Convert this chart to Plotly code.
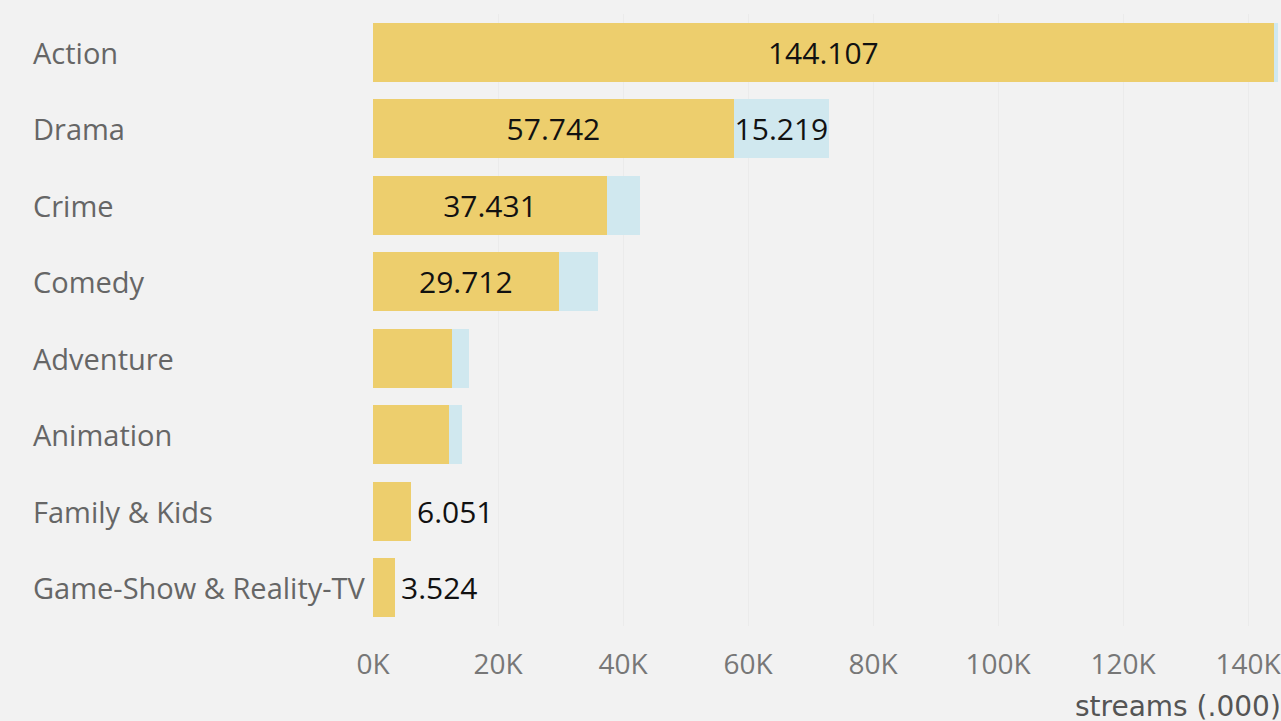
import plotly.graph_objects as go

categories = ["Action", "Drama", "Crime", "Comedy", "Adventure", "Animation",
              "Family & Kids", "Game-Show & Reality-TV"]
streams_main = [144.107, 57.742, 37.431, 29.712, 12.6, 12.1, 6.051, 3.524]
streams_other = [20.0, 15.219, 5.3, 6.3, 2.7, 2.2, 0.0, 0.0]
show_main_inside = [True, True, True, True, False, False, False, False]
show_main_outside = [False, False, False, False, False, False, True, True]
show_other = [False, True, False, False, False, False, False, False]
tick_vals = [0, 20, 40, 60, 80, 100, 120, 140]
tick_text = ["0K", "20K", "40K", "60K", "80K", "100K", "120K", "140K"]

YELLOW = "#EDCE6D"
BLUE = "#D0E8EF"
BG = "#F2F2F2"
FONT = "Open Sans"

fmt = lambda v: f"{v:.3f}"

fig = go.Figure()
fig.add_trace(go.Bar(
    y=categories, x=streams_main, orientation="h",
    marker=dict(color=YELLOW, line=dict(width=0)),
    text=[fmt(v) if s else "" for v, s in zip(streams_main, show_main_inside)],
    textposition="inside", insidetextanchor="middle", constraintext="none",
    textangle=0,
    insidetextfont=dict(family=FONT, size=30, color="#111111"),
    hoverinfo="skip",
))
fig.add_trace(go.Bar(
    y=categories, x=streams_other, orientation="h",
    marker=dict(color=BLUE, line=dict(width=0)),
    text=[fmt(v) if s else "" for v, s in zip(streams_other, show_other)],
    textposition="inside", insidetextanchor="middle", constraintext="none",
    textangle=0,
    insidetextfont=dict(family=FONT, size=30, color="#111111"),
    hoverinfo="skip",
))

annotations = []
for c, v, s in zip(categories, streams_main, show_main_outside):
    if s:
        annotations.append(dict(x=v, y=c, xref="x", yref="y", text=fmt(v),
                                xanchor="left", showarrow=False, xshift=4,
                                font=dict(family=FONT, size=30, color="#111111")))
for c in categories:
    annotations.append(dict(x=0, y=c, xref="paper", yref="y", text=c,
                            xanchor="left", xshift=-342, showarrow=False,
                            font=dict(family=FONT, size=29, color="#666666")))
annotations.append(dict(x=0.774, y=-0.132, xref="paper", yref="paper",
                        text="streams (.000)", xanchor="left", yanchor="middle",
                        showarrow=False,
                        font=dict(family="DejaVu Sans", size=28, color="#555555")))

fig.update_layout(
    width=1281, height=721,
    barmode="stack", bargap=0.23,
    paper_bgcolor=BG, plot_bgcolor=BG,
    margin=dict(l=373, r=0, t=14, b=95),
    showlegend=False,
    annotations=annotations,
    xaxis=dict(range=[0, 144.8], tickvals=tick_vals, ticktext=tick_text,
               showgrid=True, gridcolor="#EBEBEB", zeroline=False,
               ticks="outside", ticklen=13, tickcolor="rgba(0,0,0,0)",
               ticklabeloverflow="allow",
               tickfont=dict(family=FONT, size=28, color="#777777"),
               showline=False),
    yaxis=dict(autorange="reversed", showticklabels=False, showgrid=False,
               zeroline=False),
)

page_css = ("document.body.style.margin='0';"
            "document.body.style.overflow='hidden';"
            "document.body.style.background='#F2F2F2';")

fig.write_html("out.html", post_script=page_css,
               config={"displayModeBar": False})
